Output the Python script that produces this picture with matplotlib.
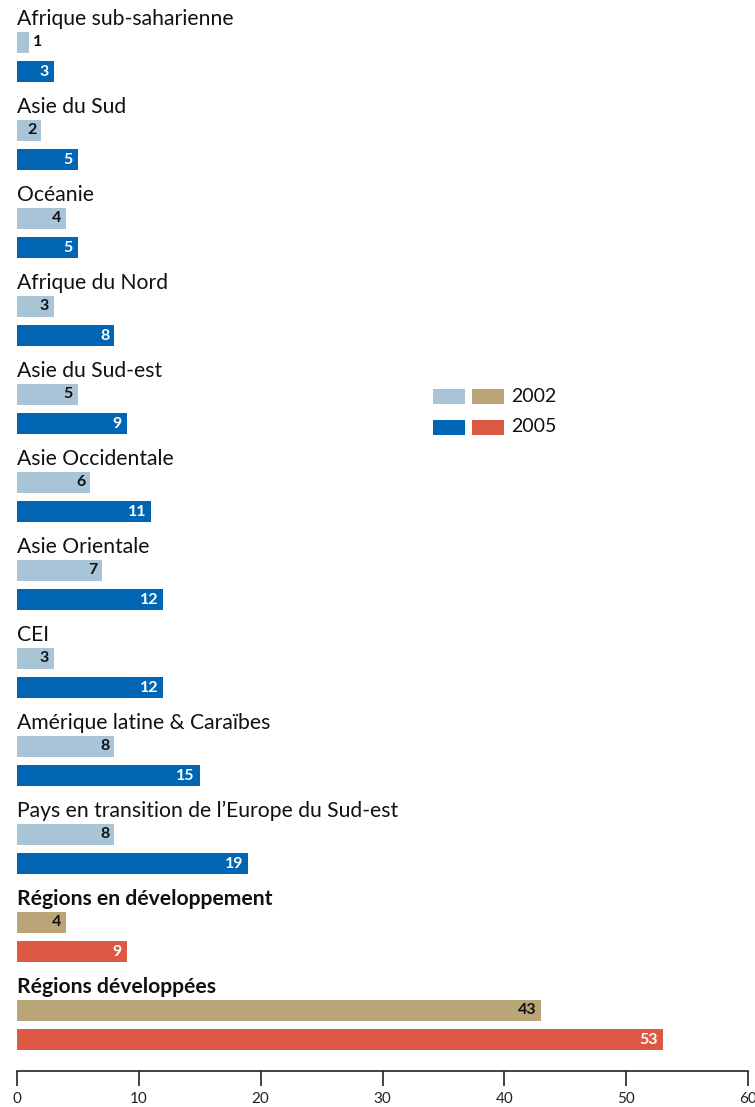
import matplotlib.pyplot as plt
from matplotlib.patches import Rectangle

regions = [
    "Afrique sub-saharienne",
    "Asie du Sud",
    "Océanie",
    "Afrique du Nord",
    "Asie du Sud-est",
    "Asie Occidentale",
    "Asie Orientale",
    "CEI",
    "Amérique latine & Caraïbes",
    "Pays en transition de l\u2019Europe du Sud-est",
    "Régions en développement",
    "Régions développées",
]
values_2002 = [1, 2, 4, 3, 5, 6, 7, 3, 8, 8, 4, 43]
values_2005 = [3, 5, 5, 8, 9, 11, 12, 12, 15, 19, 9, 53]
aggregates = ["Régions en développement", "Régions développées"]

LIGHT_BLUE = "#a8c4d6"
DARK_BLUE = "#0066b3"
TAN = "#b9a577"
RED = "#dd5843"

plt.rcParams['font.family'] = ['Lato', 'DejaVu Sans']

W, H = 755, 1107
fig = plt.figure(figsize=(W / 100, H / 100), dpi=100)
# y axis runs in pixel rows from the top down to the axis line
ax = fig.add_axes([17 / W, (H - 1071) / H, (748 - 17) / W, 1071 / H])
ax.set_xlim(0, 60)
ax.set_ylim(1071, 0)

STEP = 88
BAR_H = 21

for i, name in enumerate(regions):
    top = 19 + i * STEP
    agg = name in aggregates
    c1, c2 = (TAN, RED) if agg else (LIGHT_BLUE, DARK_BLUE)
    ax.text(0, top, name, fontsize=15.2, va='center', ha='left',
            fontweight='bold' if agg else 'normal', color='#111111')
    y1 = top + 23.5
    y2 = top + 52.5
    ax.barh(y1, values_2002[i], height=BAR_H, color=c1)
    ax.barh(y2, values_2005[i], height=BAR_H, color=c2)
    for y, v, tc in [(y1, values_2002[i], '#111111'), (y2, values_2005[i], 'white')]:
        if v < 1.5:
            ax.annotate(str(v), (v, y), xytext=(2.5, 0), textcoords='offset points',
                        ha='left', va='center', fontsize=11.5, fontweight='bold',
                        color='#111111')
        else:
            ax.annotate(str(v), (v, y), xytext=(-3.5, 0), textcoords='offset points',
                        ha='right', va='center', fontsize=11.5, fontweight='bold',
                        color=tc)

# legend swatches
for y, ca, cb, lab in [(396, LIGHT_BLUE, TAN, "2002"), (427, DARK_BLUE, RED, "2005")]:
    x0 = (433 - 17) / (748 - 17) * 60
    wd = 32 / (748 - 17) * 60
    gap = 39 / (748 - 17) * 60
    ax.add_patch(Rectangle((x0, y - 7.5), wd, 15, color=ca, lw=0))
    ax.add_patch(Rectangle((x0 + gap, y - 7.5), wd, 15, color=cb, lw=0))
    ax.text((511 - 17) / (748 - 17) * 60, y, lab, fontsize=14, va='center',
            ha='left', color='#111111')

for s in ['top', 'left', 'right']:
    ax.spines[s].set_visible(False)
ax.spines['bottom'].set_linewidth(1.2)
ax.spines['bottom'].set_color('#222222')
ax.set_yticks([])
ax.set_xticks(range(0, 61, 10))
ax.tick_params(axis='x', direction='out', length=11, width=1.2, color='#222222',
               labelsize=11, pad=4, labelcolor='#222222')

fig.savefig("out.png", dpi=100)
